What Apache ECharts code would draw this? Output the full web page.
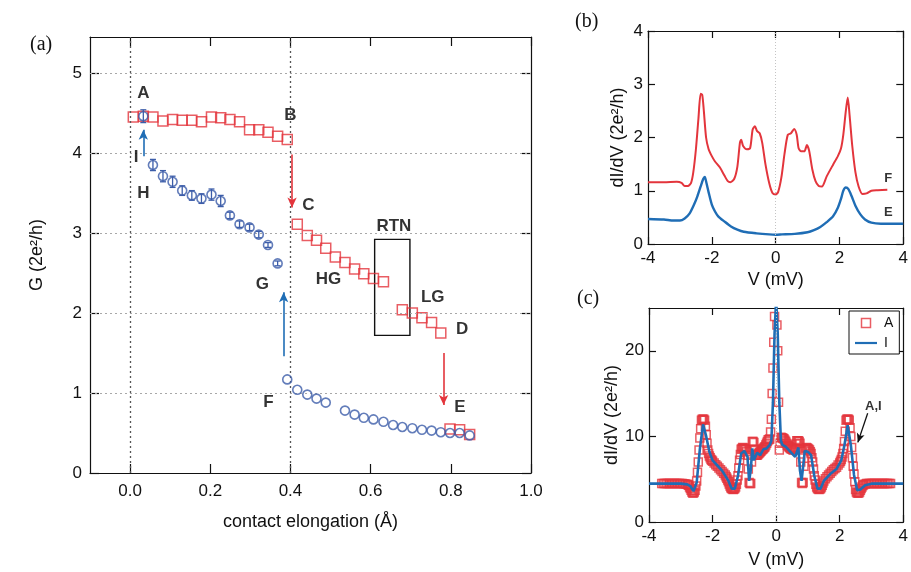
<!DOCTYPE html>
<html>
<head>
<meta charset="utf-8">
<script src="https://cdn.jsdelivr.net/npm/echarts@6/dist/echarts.min.js"></script>
<style>
  html, body { margin: 0; padding: 0; background: #fff; }
  #chart { width: 911px; height: 572px; }
</style>
</head>
<body>
<div id="chart"></div>
<script>
// ---------- panel (a): conductance vs. contact elongation ----------
// stretching trace (red squares)
const elongStretch = [0.008, 0.033, 0.057, 0.082, 0.106, 0.130, 0.154, 0.178, 0.203, 0.226, 0.249, 0.273, 0.298, 0.321, 0.344, 0.368, 0.392,
  0.417, 0.442, 0.465, 0.488, 0.512, 0.536, 0.560, 0.583, 0.607, 0.632,
  0.679, 0.704, 0.728, 0.752, 0.775,
  0.798, 0.822, 0.847];
const condStretch = [4.45, 4.46, 4.45, 4.40, 4.42, 4.41, 4.41, 4.39, 4.45, 4.44, 4.42, 4.39, 4.29, 4.29, 4.26, 4.21, 4.17,
  3.11, 2.97, 2.91, 2.81, 2.70, 2.63, 2.55, 2.49, 2.43, 2.39,
  2.04, 2.00, 1.94, 1.88, 1.75,
  0.55, 0.54, 0.48];
// returning trace (blue circles) with error bars
const elongReturn = [0.033, 0.057, 0.082, 0.106, 0.130, 0.154, 0.178, 0.203, 0.226, 0.249, 0.273, 0.298, 0.321, 0.344, 0.368,
  0.392, 0.417, 0.442, 0.465, 0.488, 0.536, 0.560, 0.583, 0.607, 0.632, 0.656, 0.679, 0.704, 0.728, 0.752, 0.775, 0.798, 0.822, 0.847];
const condReturn = [4.46, 3.85, 3.71, 3.64, 3.53, 3.47, 3.43, 3.48, 3.40, 3.22, 3.11, 3.07, 2.98, 2.85, 2.62,
  1.17, 1.04, 0.98, 0.93, 0.88, 0.78, 0.73, 0.69, 0.67, 0.64, 0.60, 0.575, 0.56, 0.54, 0.53, 0.51, 0.50, 0.50, 0.47];
const errReturn = [0.08, 0.07, 0.07, 0.07, 0.06, 0.06, 0.06, 0.07, 0.07, 0.04, 0.04, 0.04, 0.04, 0.03, 0.03,
  0, 0, 0, 0, 0, 0, 0, 0, 0, 0, 0, 0, 0, 0, 0, 0, 0, 0, 0];
const elongTicks = [0.0, 0.2, 0.4, 0.6, 0.8, 1.0];
const condTicks = [0, 1, 2, 3, 4, 5];
// point labels: name, elongation, conductance
const pointNames = ['A', 'B', 'C', 'D', 'E', 'F', 'G', 'H', 'I', 'HG', 'LG', 'RTN'];
const pointElong = [0.033, 0.400, 0.445, 0.828, 0.823, 0.345, 0.330, 0.033, 0.015, 0.495, 0.755, 0.658];
const pointCond = [4.75, 4.47, 3.35, 1.80, 0.82, 0.88, 2.36, 3.50, 3.94, 2.42, 2.20, 3.08];

// ---------- panel (b): dI/dV spectra at F and E ----------
const biasF = [-4.0, -3.5, -3.1, -2.95, -2.85, -2.75, -2.65, -2.58, -2.5, -2.42, -2.35, -2.3, -2.25, -2.18, -2.1, -2.0, -1.9, -1.75, -1.6, -1.5, -1.42, -1.3, -1.2, -1.12, -1.08, -1.02, -0.9, -0.8, -0.72, -0.65, -0.58, -0.5, -0.42, -0.32, -0.2, -0.1, 0,
  0.08, 0.18, 0.28, 0.38, 0.48, 0.58, 0.66, 0.72, 0.8, 0.9, 0.98, 1.05, 1.15, 1.25, 1.35, 1.45, 1.6, 1.8, 1.95, 2.05, 2.12, 2.2, 2.26, 2.32, 2.4, 2.5, 2.6, 2.72, 2.85, 3.0, 3.2, 3.5];
const dIdVF = [1.16, 1.16, 1.17, 1.15, 1.09, 1.09, 1.15, 1.35, 1.77, 2.35, 2.82, 2.80, 2.50, 2.00, 1.78, 1.65, 1.55, 1.44, 1.28, 1.18, 1.16, 1.22, 1.45, 1.90, 1.96, 1.84, 1.78, 1.80, 2.15, 2.21, 2.12, 2.08, 1.90, 1.50, 1.14, 0.96, 0.93,
  0.98, 1.25, 1.70, 2.05, 2.08, 2.16, 2.05, 1.80, 1.74, 1.74, 1.86, 1.75, 1.40, 1.18, 1.09, 1.08, 1.27, 1.49, 1.65, 1.80, 2.05, 2.50, 2.75, 2.40, 1.85, 1.35, 1.08, 0.94, 0.95, 1.00, 1.01, 1.02];
const biasE = [-4.0, -3.5, -3.2, -3.0, -2.85, -2.7, -2.55, -2.45, -2.35, -2.27, -2.22, -2.17, -2.1, -2.0, -1.9, -1.8, -1.6, -1.4, -1.2, -1.0, -0.6, -0.2, 0,
  0.2, 0.6, 1.0, 1.2, 1.4, 1.6, 1.8, 1.95, 2.05, 2.12, 2.2, 2.28, 2.38, 2.5, 2.65, 2.8, 3.0, 3.3, 3.6, 4.0];
const dIdVE = [0.47, 0.46, 0.44, 0.44, 0.48, 0.57, 0.75, 0.90, 1.08, 1.22, 1.26, 1.15, 0.97, 0.74, 0.61, 0.52, 0.42, 0.33, 0.27, 0.23, 0.20, 0.18, 0.175,
  0.18, 0.19, 0.22, 0.26, 0.32, 0.41, 0.52, 0.68, 0.85, 1.00, 1.06, 1.03, 0.90, 0.72, 0.56, 0.46, 0.40, 0.38, 0.38, 0.38];

// ---------- panel (c): dI/dV spectra at A and I ----------
// spectrum A as [bias (mV), dI/dV] samples
const spectrumA = [
  [-3.6, 4.5], [-3.55, 4.5], [-3.5, 4.5], [-3.45, 4.5], [-3.4, 4.5], [-3.35, 4.5], [-3.3, 4.5], [-3.25, 4.5], [-3.2, 4.5],
  [-3.15, 4.5], [-3.1, 4.5], [-3.05, 4.5], [-3.0, 4.5], [-2.95, 4.5], [-2.9, 4.48], [-2.85, 4.45], [-2.8, 4.4],
  [-2.775, 4.35], [-2.75, 4.3], [-2.725, 4.1], [-2.7, 3.9], [-2.675, 3.7], [-2.65, 3.5], [-2.625, 3.4], [-2.6, 3.4],
  [-2.575, 3.5], [-2.55, 3.7], [-2.525, 4.2], [-2.5, 4.8], [-2.475, 5.8], [-2.45, 7.0], [-2.425, 8.4], [-2.4, 9.8],
  [-2.375, 10.9], [-2.35, 11.9], [-2.325, 12.0], [-2.3, 12.0], [-2.275, 12.0], [-2.25, 11.9], [-2.225, 11.2], [-2.2, 10.2],
  [-2.175, 9.2], [-2.15, 8.4], [-2.125, 8.0], [-2.1, 7.7], [-2.075, 7.5], [-2.05, 7.3], [-2.025, 7.2], [-2.0, 7.1],
  [-1.95, 6.9], [-1.9, 6.7], [-1.85, 6.5], [-1.8, 6.3], [-1.75, 6.1], [-1.7, 5.9], [-1.65, 5.7], [-1.6, 5.5],
  [-1.575, 5.3], [-1.55, 5.1], [-1.525, 4.9], [-1.5, 4.7], [-1.475, 4.45], [-1.45, 4.2], [-1.425, 4.0], [-1.4, 3.9],
  [-1.375, 3.85], [-1.35, 3.8], [-1.325, 3.85], [-1.3, 3.9], [-1.275, 4.1], [-1.25, 4.4], [-1.225, 4.9], [-1.2, 5.4],
  [-1.175, 6.3], [-1.15, 7.2], [-1.125, 7.9], [-1.1, 8.5], [-1.075, 8.6], [-1.05, 8.7], [-1.025, 8.65], [-1.0, 8.6],
  [-0.975, 8.5], [-0.95, 8.4], [-0.925, 8.2], [-0.9, 7.8], [-0.875, 6.2], [-0.85, 4.6], [-0.825, 4.5], [-0.8, 4.5],
  [-0.775, 7.0], [-0.75, 9.4], [-0.725, 9.4], [-0.7, 9.3], [-0.675, 8.5], [-0.65, 7.8], [-0.625, 7.8], [-0.6, 7.8],
  [-0.575, 7.9], [-0.55, 8.0], [-0.525, 8.1], [-0.5, 8.2], [-0.475, 8.3], [-0.45, 8.4], [-0.425, 8.5], [-0.4, 8.6],
  [-0.375, 8.7], [-0.35, 8.8], [-0.325, 9.0], [-0.3, 9.2], [-0.275, 9.4], [-0.25, 9.6], [-0.225, 9.65], [-0.2, 9.7],
  [-0.175, 10.5], [-0.15, 12.0], [-0.125, 15.0], [-0.1, 18.0], [-0.075, 21.0], [-0.05, 24.0], [-0.025, 25.5], [0, 25.5],
  [0.025, 23.0], [0.05, 20.0], [0.075, 14.0], [0.1, 8.4], [0.125, 9.2], [0.15, 9.9], [0.175, 9.85], [0.2, 9.8],
  [0.225, 9.75], [0.25, 9.7], [0.275, 9.55], [0.3, 9.4], [0.325, 9.2], [0.35, 9.0], [0.375, 8.9], [0.4, 8.8],
  [0.425, 8.7], [0.45, 8.6], [0.475, 8.55], [0.5, 8.5], [0.525, 8.45], [0.55, 8.4], [0.575, 8.5], [0.6, 8.7],
  [0.625, 9.1], [0.65, 9.5], [0.675, 9.5], [0.7, 9.5], [0.725, 9.4], [0.75, 9.2], [0.775, 7.0], [0.8, 4.6],
  [0.825, 4.5], [0.85, 4.6], [0.875, 6.5], [0.9, 8.4], [0.925, 8.6], [0.95, 8.7], [0.975, 8.65], [1.0, 8.6],
  [1.025, 8.5], [1.05, 8.4], [1.075, 8.2], [1.1, 8.0], [1.125, 7.5], [1.15, 7.0], [1.175, 6.2], [1.2, 5.4],
  [1.225, 4.9], [1.25, 4.4], [1.275, 4.1], [1.3, 3.9], [1.325, 3.85], [1.35, 3.8], [1.375, 3.85], [1.4, 3.9],
  [1.425, 4.1], [1.45, 4.3], [1.475, 4.55], [1.5, 4.8], [1.55, 5.05], [1.6, 5.3], [1.65, 5.5], [1.7, 5.7],
  [1.75, 5.9], [1.8, 6.1], [1.85, 6.25], [1.9, 6.4], [1.95, 6.65], [2.0, 6.9], [2.025, 7.1], [2.05, 7.3],
  [2.075, 7.6], [2.1, 8.0], [2.125, 8.6], [2.15, 9.4], [2.175, 10.6], [2.2, 11.9], [2.225, 12.0], [2.25, 12.0],
  [2.275, 12.0], [2.3, 11.9], [2.325, 11.0], [2.35, 10.0], [2.375, 8.7], [2.4, 7.5], [2.425, 6.5], [2.45, 5.6],
  [2.475, 4.7], [2.5, 3.8], [2.525, 3.5], [2.55, 3.4], [2.575, 3.4], [2.6, 3.4], [2.625, 3.5], [2.65, 3.7],
  [2.675, 3.9], [2.7, 4.1], [2.725, 4.25], [2.75, 4.35], [2.8, 4.45], [2.85, 4.5], [2.9, 4.5], [2.95, 4.5],
  [3.0, 4.5], [3.05, 4.5], [3.1, 4.5], [3.15, 4.5], [3.2, 4.5], [3.25, 4.5], [3.3, 4.5], [3.35, 4.5],
  [3.4, 4.5], [3.45, 4.5], [3.5, 4.5], [3.55, 4.5], [3.6, 4.5]
];
const biasI = [-4.0, -3.0, -2.8, -2.7, -2.6, -2.5, -2.4, -2.3, -2.2, -2.1, -2.0, -1.85, -1.7, -1.5, -1.4, -1.3, -1.2, -1.1, -1.0, -0.9, -0.85, -0.8, -0.75, -0.7, -0.6, -0.5, -0.4, -0.3, -0.2, -0.15, -0.1, -0.05, 0,
  0.05, 0.1, 0.15, 0.2, 0.3, 0.4, 0.5, 0.6, 0.7, 0.75, 0.8, 0.85, 0.9, 1.0, 1.1, 1.2, 1.3, 1.4, 1.5, 1.7, 1.9, 2.05, 2.15, 2.25, 2.35, 2.45, 2.55, 2.65, 2.8, 3.0, 4.0];
const dIdVI = [4.48, 4.48, 4.4, 4.2, 3.6, 4.6, 8.5, 11.4, 10.0, 8.2, 7.2, 6.6, 6.0, 4.8, 3.9, 3.9, 5.4, 8.0, 8.3, 7.6, 4.8, 6.0, 8.6, 7.2, 8.1, 7.8, 8.5, 8.6, 9.0, 9.5, 14.0, 22.0, 26.0,
  22.0, 14.0, 9.5, 9.0, 8.8, 8.4, 8.0, 7.6, 8.7, 6.0, 4.8, 6.5, 8.3, 8.2, 7.8, 5.4, 3.9, 3.9, 4.8, 5.6, 6.2, 7.2, 9.0, 11.3, 9.0, 5.5, 3.7, 3.8, 4.3, 4.48, 4.48];
const biasTicks = [-4, -2, 0, 2, 4];

// ---------- styling ----------
const RED = '#e3353c';
const BLUE_A = '#3c5da9';
const BLUE = '#1f6db5';
const FONT = 'Liberation Sans, Arial, Helvetica, sans-serif';
const SERIF = 'Liberation Serif, Times New Roman, serif';

const zip = (xs, ys) => xs.map((x, i) => [x, ys[i]]);

function axisBase(extra) {
  return Object.assign({
    type: 'value',
    axisLine: { show: true, onZero: false, lineStyle: { color: '#111', width: 1.2 } },
    axisTick: { show: true, inside: true, length: 8, lineStyle: { color: '#111', width: 1.2 } },
    splitLine: { show: false },
    axisLabel: { color: '#111', fontFamily: FONT, fontSize: 17 },
    nameTextStyle: { color: '#111', fontFamily: FONT, fontSize: 18 }
  }, extra);
}
function mirror(base) {
  return Object.assign({}, base, {
    name: '',
    axisLabel: { show: false, customValues: base.axisLabel.customValues },
    axisTick: Object.assign({}, base.axisTick)
  });
}

// panel (a) axes
const xA = axisBase({
  gridIndex: 0, position: 'bottom', min: -0.1, max: 1.0,
  name: 'contact elongation (Å)', nameLocation: 'middle', nameGap: 40,
  axisLabel: { color: '#111', fontFamily: FONT, fontSize: 17, margin: 10, customValues: elongTicks, formatter: v => v.toFixed(1) },
  axisTick: { show: true, inside: true, length: 9, customValues: elongTicks, lineStyle: { color: '#111', width: 1.2 } }
});
const yA = axisBase({
  gridIndex: 0, position: 'left', min: 0, max: 5.45,
  name: 'G (2e²/h)', nameLocation: 'middle', nameGap: 44,
  axisLabel: { color: '#111', fontFamily: FONT, fontSize: 17, margin: 8, customValues: condTicks },
  axisTick: { show: true, inside: true, length: 9, customValues: condTicks, lineStyle: { color: '#111', width: 1.2 } }
});
// panel (b) axes
const xB = axisBase({
  gridIndex: 1, position: 'bottom', min: -4, max: 4,
  name: 'V (mV)', nameLocation: 'middle', nameGap: 27,
  axisLabel: { color: '#111', fontFamily: FONT, fontSize: 17, margin: 6, customValues: biasTicks },
  axisTick: { show: true, inside: true, length: 7, customValues: biasTicks, lineStyle: { color: '#111', width: 1.2 } }
});
const yB = axisBase({
  gridIndex: 1, position: 'left', min: 0, max: 4,
  name: 'dI/dV (2e²/h)', nameLocation: 'middle', nameGap: 21,
  axisLabel: { color: '#111', fontFamily: FONT, fontSize: 17, margin: 5, customValues: [0, 1, 2, 3, 4] },
  axisTick: { show: true, inside: true, length: 7, customValues: [0, 1, 2, 3, 4], lineStyle: { color: '#111', width: 1.2 } }
});
// panel (c) axes
const xC = axisBase({
  gridIndex: 2, position: 'bottom', min: -4, max: 4,
  name: 'V (mV)', nameLocation: 'middle', nameGap: 29,
  axisLabel: { color: '#111', fontFamily: FONT, fontSize: 17, margin: 6, customValues: biasTicks },
  axisTick: { show: true, inside: true, length: 7, customValues: biasTicks, lineStyle: { color: '#111', width: 1.2 } }
});
const yC = axisBase({
  gridIndex: 2, position: 'left', min: 0, max: 25,
  name: 'dI/dV (2e²/h)', nameLocation: 'middle', nameGap: 21,
  axisLabel: { color: '#111', fontFamily: FONT, fontSize: 17, margin: 5, customValues: [0, 10, 20] },
  axisTick: { show: true, inside: true, length: 7, customValues: [0, 10, 20], lineStyle: { color: '#111', width: 1.2 } }
});

const xAxes = [xA, Object.assign(mirror(xA), { position: 'top' }),
               xB, Object.assign(mirror(xB), { position: 'top' }),
               xC, Object.assign(mirror(xC), { position: 'top' })];
const yAxes = [yA, Object.assign(mirror(yA), { position: 'right' }),
               yB, Object.assign(mirror(yB), { position: 'right' }),
               yC, Object.assign(mirror(yC), { position: 'right' })];

function arrow(from, to, color) {
  return [
    { coord: from, symbol: 'none', lineStyle: { color: color, width: 1.6, type: 'solid' } },
    { coord: to, symbol: 'arrow', symbolSize: [7, 10] }
  ];
}

const errData = elongReturn.map((x, i) => [x, condReturn[i] - errReturn[i], condReturn[i] + errReturn[i]]).filter(d => d[2] > d[1]);

const option = {
  backgroundColor: '#fff',
  animation: false,
  textStyle: { fontFamily: FONT },
  grid: [
    { left: 90, top: 37, width: 441, height: 436 },
    { left: 648, top: 31, width: 260, height: 213 },
    { left: 649, top: 308, width: 259, height: 214 }
  ],
  xAxis: xAxes,
  yAxis: yAxes,
  legend: {
    data: [
      { name: 'A', icon: 'path://M0,0 H10 V10 H0 Z', itemStyle: { color: 'rgba(0,0,0,0)', borderColor: RED, borderWidth: 1.5 } },
      { name: 'I', icon: 'path://M0,0 H30 V3 H0 Z', itemStyle: { color: BLUE, borderWidth: 0 } }
    ],
    orient: 'vertical', left: 849, top: 311,
    padding: [5, 6, 4, 6], itemGap: 6, itemWidth: 22, itemHeight: 9,
    borderColor: '#111', borderWidth: 1, backgroundColor: '#fff',
    textStyle: { fontFamily: FONT, fontSize: 14, color: '#111', padding: [0, 0, 0, 2] },
    selectedMode: false
  },
  graphic: [
    { type: 'text', left: 30, top: 35, style: { text: '(a)', font: '20px ' + SERIF, fill: '#111' } },
    { type: 'text', left: 575, top: 12, style: { text: '(b)', font: '20px ' + SERIF, fill: '#111' } },
    { type: 'text', left: 577, top: 289, style: { text: '(c)', font: '20px ' + SERIF, fill: '#111' } }
  ],
  series: [
    // ---- panel (a) ----
    {
      name: 'stretch', type: 'scatter', xAxisIndex: 0, yAxisIndex: 0,
      data: zip(elongStretch, condStretch),
      symbol: 'rect', symbolSize: 10,
      itemStyle: { color: 'rgba(0,0,0,0)', borderColor: RED, borderWidth: 1.5 },
      markLine: {
        silent: true, symbol: 'none', label: { show: false },
        lineStyle: { color: '#a8a8a8', type: [2, 3], width: 1.2 },
        data: [
          { yAxis: 1 }, { yAxis: 2 }, { yAxis: 3 }, { yAxis: 4 }, { yAxis: 5 },
          { xAxis: 0, lineStyle: { color: '#555', type: [2, 3], width: 1.3 } },
          { xAxis: 0.4, lineStyle: { color: '#555', type: [2, 3], width: 1.3 } },
          arrow([0.404, 3.98], [0.404, 3.32], RED),
          arrow([0.782, 1.50], [0.782, 0.85], RED)
        ]
      },
      markArea: {
        silent: true,
        itemStyle: { color: 'rgba(0,0,0,0)', borderColor: '#111', borderWidth: 1.4 },
        data: [[{ coord: [0.610, 2.92] }, { coord: [0.698, 1.72] }]]
      },
      z: 3
    },
    {
      name: 'return-err', type: 'custom', xAxisIndex: 0, yAxisIndex: 0,
      data: errData,
      renderItem: (params, api) => {
        const x = api.value(0);
        const lo = api.coord([x, api.value(1)]);
        const hi = api.coord([x, api.value(2)]);
        const w = 3;
        const st = { stroke: BLUE_A, lineWidth: 1.3 };
        return {
          type: 'group', children: [
            { type: 'line', shape: { x1: lo[0], y1: lo[1], x2: hi[0], y2: hi[1] }, style: st },
            { type: 'line', shape: { x1: lo[0] - w, y1: lo[1], x2: lo[0] + w, y2: lo[1] }, style: st },
            { type: 'line', shape: { x1: hi[0] - w, y1: hi[1], x2: hi[0] + w, y2: hi[1] }, style: st }
          ]
        };
      },
      z: 4
    },
    {
      name: 'return', type: 'scatter', xAxisIndex: 0, yAxisIndex: 0,
      data: zip(elongReturn, condReturn),
      symbol: 'circle', symbolSize: 9,
      itemStyle: { color: 'rgba(0,0,0,0)', borderColor: BLUE_A, borderWidth: 1.6 },
      markLine: {
        silent: true, symbol: 'none', label: { show: false },
        data: [
          arrow([0.033, 3.96], [0.033, 4.29], BLUE),
          arrow([0.383, 1.46], [0.383, 2.26], BLUE)
        ]
      },
      z: 5
    },
    {
      name: 'labels-a', type: 'scatter', xAxisIndex: 0, yAxisIndex: 0,
      data: pointNames.map((n, i) => ({ name: n, value: [pointElong[i], pointCond[i]] })),
      symbolSize: 0, silent: true,
      label: {
        show: true, position: 'inside', formatter: p => p.name,
        fontFamily: FONT, fontWeight: 'bold', fontSize: 17, color: '#000'
      },
      z: 6
    },
    // ---- panel (b) ----
    {
      name: 'F', type: 'line', xAxisIndex: 2, yAxisIndex: 2,
      data: zip(biasF, dIdVF), showSymbol: false, symbol: 'none', smooth: 0.25,
      lineStyle: { color: RED, width: 2 },
      markLine: {
        silent: true, symbol: 'none', label: { show: false },
        lineStyle: { color: '#c4c4c4', type: [1, 2], width: 1 },
        data: [{ xAxis: 0 }]
      }
    },
    {
      name: 'E', type: 'line', xAxisIndex: 2, yAxisIndex: 2,
      data: zip(biasE, dIdVE), showSymbol: false, symbol: 'none', smooth: 0.25,
      lineStyle: { color: BLUE, width: 2.4 }
    },
    {
      name: 'labels-b', type: 'scatter', xAxisIndex: 2, yAxisIndex: 2,
      data: [{ name: 'F', value: [3.53, 1.24] }, { name: 'E', value: [3.53, 0.59] }],
      symbolSize: 0, silent: true,
      label: { show: true, position: 'inside', formatter: p => p.name, fontFamily: FONT, fontWeight: 'bold', fontSize: 13, color: '#000' }
    },
    // ---- panel (c) ----
    {
      name: 'A', type: 'scatter', xAxisIndex: 4, yAxisIndex: 4,
      data: spectrumA,
      symbol: 'rect', symbolSize: 8,
      itemStyle: { color: 'rgba(0,0,0,0)', borderColor: RED, borderWidth: 1.5 },
      markLine: {
        silent: true, symbol: 'none', label: { show: false },
        lineStyle: { color: '#c4c4c4', type: [1, 2], width: 1 },
        data: [
          { xAxis: 0 },
          [
            { coord: [2.88, 12.7], symbol: 'none', lineStyle: { color: '#111', width: 1.3, type: 'solid' } },
            { coord: [2.57, 9.3], symbol: 'arrow', symbolSize: [6, 9] }
          ]
        ]
      }
    },
    {
      name: 'I', type: 'line', xAxisIndex: 4, yAxisIndex: 4,
      data: zip(biasI, dIdVI), showSymbol: false, symbol: 'none',
      lineStyle: { color: BLUE, width: 2.6 }, itemStyle: { color: BLUE }
    },
    {
      name: 'labels-c', type: 'scatter', xAxisIndex: 4, yAxisIndex: 4,
      data: [{ name: 'A,I', value: [3.06, 13.5] }],
      symbolSize: 0, silent: true,
      label: { show: true, position: 'inside', formatter: p => p.name, fontFamily: FONT, fontWeight: 'bold', fontSize: 13, color: '#000' }
    }
  ]
};

const chart = echarts.init(document.getElementById('chart'), null, { renderer: 'canvas' });
chart.setOption(option);
</script>
</body>
</html>
